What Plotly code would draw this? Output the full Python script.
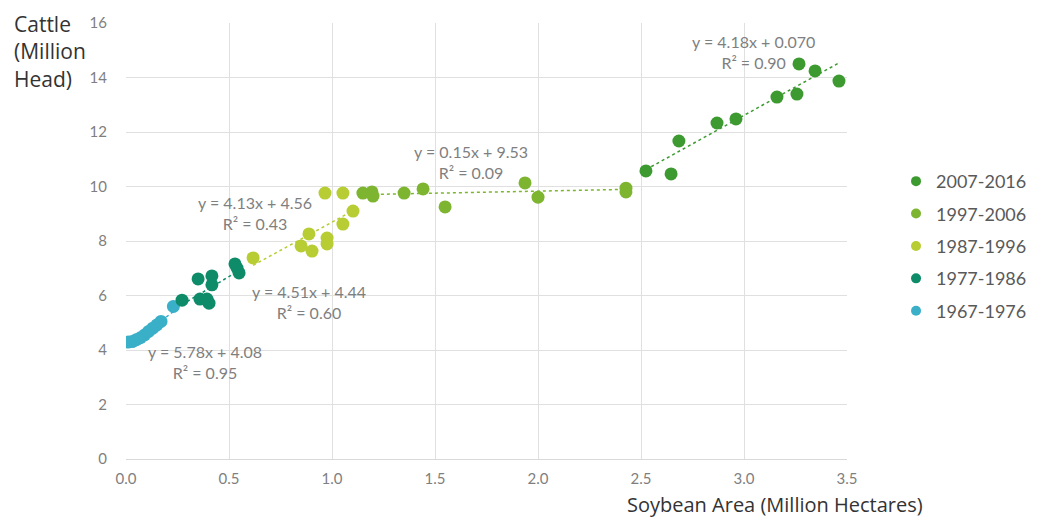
import plotly.graph_objects as go

# ---- data ----
periods = ["1967-1976", "1977-1986", "1987-1996", "1997-2006", "2007-2016"]
colors = ["#3aafc8", "#0e8c6a", "#b8cc33", "#7db531", "#3d9a31"]

x_1967 = [0.01, 0.03, 0.05, 0.07, 0.09, 0.11, 0.13, 0.15, 0.17, 0.23]
y_1967 = [4.29, 4.31, 4.38, 4.45, 4.55, 4.68, 4.80, 4.92, 5.05, 5.60]

x_1977 = [0.272, 0.350, 0.417, 0.417, 0.359, 0.393, 0.403, 0.529, 0.539, 0.549]
y_1977 = [5.83, 6.61, 6.72, 6.39, 5.87, 5.87, 5.72, 7.16, 7.01, 6.83]

x_1987 = [0.617, 0.850, 0.888, 0.903, 0.976, 0.976, 1.053, 1.102, 0.966, 1.053]
y_1987 = [7.38, 7.82, 8.26, 7.63, 8.11, 7.89, 8.62, 9.10, 9.76, 9.76]

x_1997 = [1.150, 1.194, 1.199, 1.350, 1.442, 1.549, 1.937, 2.000, 2.427, 2.427]
y_1997 = [9.76, 9.80, 9.65, 9.76, 9.91, 9.25, 10.13, 9.61, 9.94, 9.80]

x_2007 = [2.524, 2.646, 2.684, 2.869, 2.961, 3.160, 3.257, 3.267, 3.345, 3.461]
y_2007 = [10.57, 10.46, 11.67, 12.33, 12.48, 13.28, 13.39, 14.50, 14.24, 13.87]

slopes = [5.78, 4.51, 4.13, 0.15, 4.18]
intercepts = [4.08, 4.44, 4.56, 9.53, 0.070]
eq_labels = ["y = 5.78x + 4.08<br>R² = 0.95",
             "y = 4.51x + 4.44<br>R² = 0.60",
             "y = 4.13x + 4.56<br>R² = 0.43",
             "y = 0.15x + 9.53<br>R² = 0.09",
             "y = 4.18x + 0.070<br>R² = 0.90"]
eq_pos_x = [0.383, 0.888, 0.626, 1.675, 3.044]
eq_pos_y = [3.56, 5.76, 9.03, 10.90, 14.94]

xs = [x_1967, x_1977, x_1987, x_1997, x_2007]
ys = [y_1967, y_1977, y_1987, y_1997, y_2007]

fig = go.Figure()

# trendlines
for i in range(5):
    x0, x1 = min(xs[i]), max(xs[i])
    fig.add_trace(go.Scatter(
        x=[x0, x1], y=[slopes[i] * x0 + intercepts[i], slopes[i] * x1 + intercepts[i]],
        mode="lines", line=dict(color=colors[i], width=1.5, dash="dot"),
        showlegend=False, hoverinfo="skip"))

# points
for i in range(5):
    fig.add_trace(go.Scatter(
        x=xs[i], y=ys[i], mode="markers",
        marker=dict(color=colors[i], size=13),
        name=periods[i], showlegend=False))

# legend entries (top = latest)
for i in reversed(range(5)):
    fig.add_trace(go.Scatter(
        x=[None], y=[None], mode="markers",
        marker=dict(color=colors[i], size=10),
        name=periods[i], legendgroup=periods[i], showlegend=True))

for i in range(5):
    fig.add_annotation(x=eq_pos_x[i], y=eq_pos_y[i], text=eq_labels[i],
                       showarrow=False, align="center",
                       font=dict(family="Lato", size=16, color="#7f7f7f"))

fig.add_annotation(xref="paper", yref="paper", x=-0.158, y=1.035, xanchor="left", yanchor="top",
                   text="Cattle<br>(Million<br>Head)", showarrow=False, align="left",
                   font=dict(family="Open Sans", size=21, color="#333333"))
fig.add_annotation(xref="paper", yref="paper", x=0.692, y=-0.068, xanchor="left", yanchor="top",
                   text="Soybean Area (Million Hectares)", showarrow=False,
                   font=dict(family="Open Sans", size=20, color="#333333"))

fig.update_layout(
    width=1030, height=510,
    margin=dict(l=118, r=191, t=15, b=59, autoexpand=False),
    paper_bgcolor="white", plot_bgcolor="white",
    showlegend=True,
    legend=dict(x=1.068, y=0.679, xanchor="left", yanchor="top",
                font=dict(family="Lato", size=18, color="#595959"),
                tracegroupgap=6, itemwidth=30),
    xaxis=dict(range=[0, 3.5], dtick=0.5, tickformat=".1f", showgrid=True,
               gridcolor="#e0e0e0", zeroline=False, showline=True, linecolor="#d9d9d9",
               tickfont=dict(family="Lato", size=15, color="#7f7f7f"), ticks="outside",
               ticklen=6, tickcolor="rgba(0,0,0,0)"),
    yaxis=dict(range=[0, 16], dtick=2, showgrid=True, gridcolor="#e0e0e0",
               zeroline=False, showline=False,
               tickfont=dict(family="Lato", size=15, color="#7f7f7f"), ticks="outside",
               ticklen=15, tickcolor="rgba(0,0,0,0)"),
)

fig.write_html("out.html")
